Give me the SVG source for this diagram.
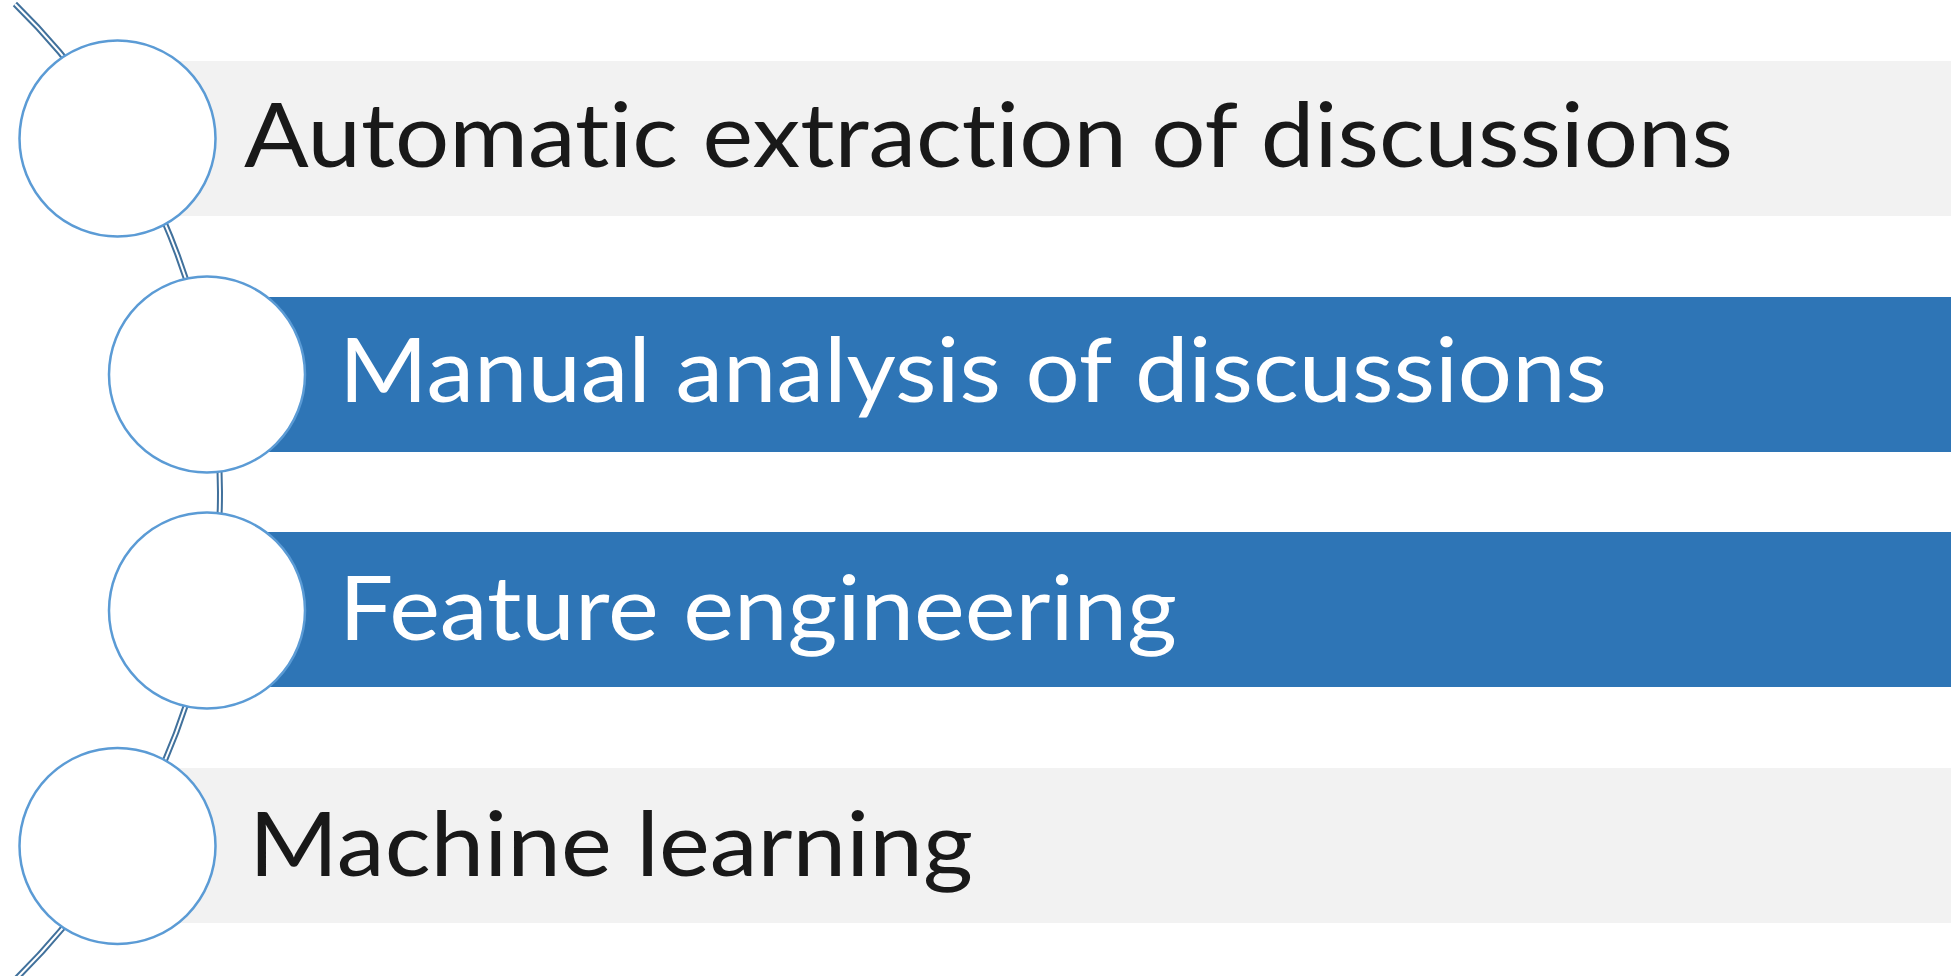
<svg xmlns="http://www.w3.org/2000/svg" width="1951" height="976" viewBox="0 0 1951 976">
  <style>
    .band-gray { fill: #f2f2f2; }
    .band-blue { fill: #2e75b6; }
    .circ { fill: #ffffff; stroke: #5b9bd5; stroke-width: 2.5; }
    .lbl { font-family: Lato, "Open Sans", "Liberation Sans", sans-serif; font-size: 90px; font-variant-ligatures: none; font-feature-settings: "liga" 0, "dlig" 0; }
    .dark { fill: #191919; }
    .light { fill: #ffffff; }
  </style>
  <rect width="1951" height="976" fill="#ffffff"/>
  <g id="connectors">
    <path d="M 14.9 4 A 683 683 0 0 1 14.8 980" fill="none" stroke="#41719c" stroke-width="6"/>
    <path d="M 14.9 4 A 683 683 0 0 1 14.8 980" fill="none" stroke="#ffffff" stroke-width="2"/>
  </g>
  <g id="node1">
    <rect class="band-gray" x="117" y="61" width="1834" height="155"/>
    <circle class="circ" cx="117.5" cy="138.5" r="98"/>
    <text class="lbl dark" x="244" y="167" textLength="1489" lengthAdjust="spacingAndGlyphs">Automatic extraction of discussions</text>
  </g>
  <g id="node2">
    <rect class="band-blue" x="207" y="297" width="1744" height="155"/>
    <circle class="circ" cx="207" cy="374.5" r="98"/>
    <text class="lbl light" x="339" y="402" textLength="1268" lengthAdjust="spacingAndGlyphs">Manual analysis of discussions</text>
  </g>
  <g id="node3">
    <rect class="band-blue" x="207" y="532" width="1744" height="155"/>
    <circle class="circ" cx="207" cy="610.5" r="98"/>
    <text class="lbl light" x="339" y="640" textLength="838" lengthAdjust="spacingAndGlyphs">Feature engineering</text>
  </g>
  <g id="node4">
    <rect class="band-gray" x="117" y="768" width="1834" height="155"/>
    <circle class="circ" cx="117.5" cy="846" r="98"/>
    <text class="lbl dark" x="249" y="876" textLength="724" lengthAdjust="spacingAndGlyphs">Machine learning</text>
  </g>
</svg>
